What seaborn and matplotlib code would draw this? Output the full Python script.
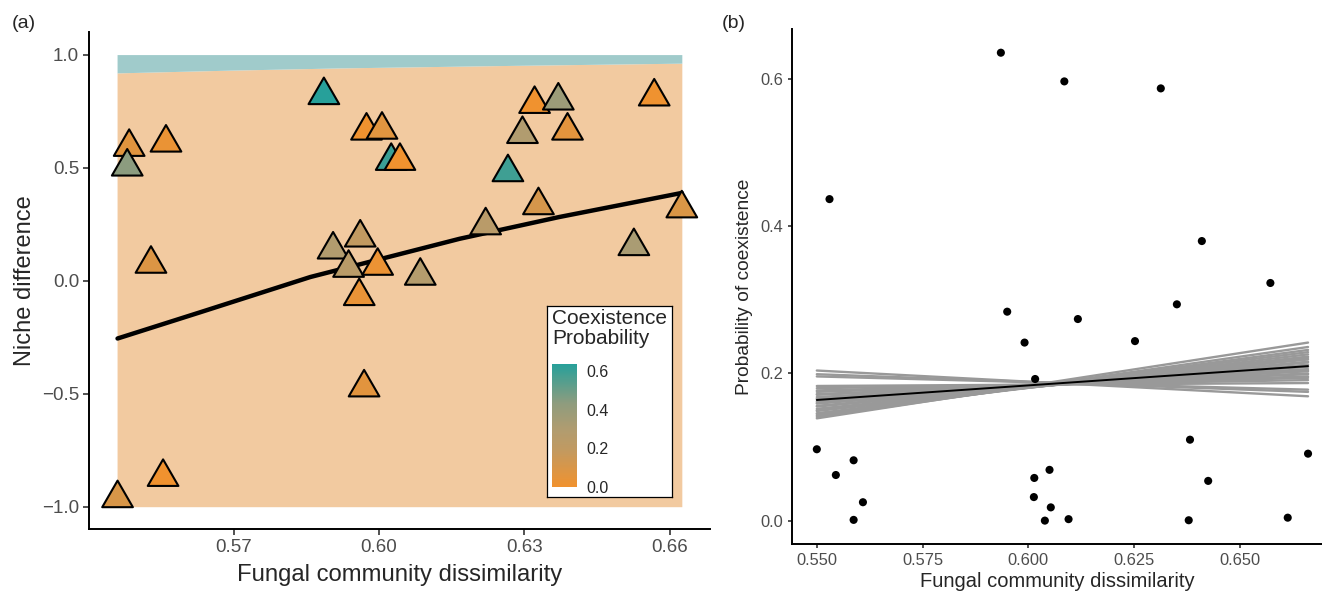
import numpy as np
import pandas as pd
import matplotlib
matplotlib.use("Agg")
import matplotlib.pyplot as plt
import seaborn as sns
from matplotlib.path import Path
from matplotlib.colors import LinearSegmentedColormap, Normalize
from matplotlib.cm import ScalarMappable

# ----------------------------------------------------------
# (a) niche difference vs fungal community dissimilarity
# ----------------------------------------------------------
dissim_a = [0.5460, 0.5484, 0.5480, 0.5529, 0.5554, 0.5560, 0.5886, 0.5905,
            0.5937, 0.5959, 0.5969, 0.5961, 0.5974, 0.5997, 0.6006, 0.6025,
            0.6043, 0.6085, 0.6220, 0.6266, 0.6296, 0.6321, 0.6329, 0.6370,
            0.6389, 0.6526, 0.6568, 0.6625]
niche_diff = [-0.963, 0.591, 0.504, 0.074, -0.869, 0.610, 0.820, 0.137,
              0.056, -0.069, -0.473, 0.190, 0.663, 0.065, 0.667, 0.529,
              0.529, 0.021, 0.244, 0.479, 0.648, 0.781, 0.333, 0.796,
              0.663, 0.152, 0.814, 0.319]
coex_prob_a = [0.097, 0.062, 0.437, 0.082, 0.001, 0.025, 0.636, 0.284,
               0.242, 0.032, 0.058, 0.1925, 0.000, 0.018, 0.069, 0.597,
               0.002, 0.274, 0.244, 0.5875, 0.294, 0.0005, 0.110, 0.380,
               0.054, 0.323, 0.004, 0.091]

# fitted curve
curve_x = [0.5460, 0.5632, 0.5858, 0.6166, 0.6371, 0.6625]
curve_y = [-0.256, -0.139, 0.016, 0.185, 0.281, 0.388]

# predicted-probability background (boundary between low / high)
band_x = [0.5459, 0.5690, 0.5919, 0.6270, 0.6625]
band_edge = [0.919, 0.931, 0.941, 0.952, 0.962]

# ----------------------------------------------------------
# (b) probability of coexistence vs dissimilarity
# ----------------------------------------------------------
dissim_b = [0.5500, 0.5530, 0.5545, 0.5587, 0.5587, 0.5609, 0.5935, 0.5950,
            0.5991, 0.6013, 0.6014, 0.6016, 0.6039, 0.6050, 0.6053, 0.6085,
            0.6095, 0.6117, 0.6252, 0.6313, 0.6351, 0.6379, 0.6382, 0.6410,
            0.6425, 0.6572, 0.6613, 0.6661]
coex_prob_b = [0.097, 0.437, 0.062, 0.082, 0.001, 0.025, 0.636, 0.284,
               0.242, 0.032, 0.058, 0.1925, 0.000, 0.069, 0.018, 0.597,
               0.002, 0.274, 0.244, 0.5875, 0.294, 0.0005, 0.110, 0.380,
               0.054, 0.323, 0.004, 0.091]

fit_x = [0.5500, 0.6661]
fit_y = [0.164, 0.210]

# posterior draws: value at left end / right end
draw_left = [0.204, 0.199, 0.196, 0.183, 0.180, 0.177, 0.175, 0.172, 0.171,
             0.168, 0.166, 0.165, 0.162, 0.160, 0.159, 0.156, 0.155, 0.152,
             0.150, 0.149, 0.146, 0.145, 0.143, 0.141, 0.139]
draw_right = [0.169, 0.175, 0.178, 0.187, 0.191, 0.194, 0.196, 0.199, 0.200,
              0.203, 0.204, 0.206, 0.209, 0.210, 0.212, 0.215, 0.216, 0.219,
              0.221, 0.223, 0.226, 0.229, 0.232, 0.236, 0.242]

# ----------------------------------------------------------
# style
# ----------------------------------------------------------
sns.set_style("ticks")
plt.rcParams['font.family'] = ['Liberation Sans', 'DejaVu Sans']
plt.rcParams['axes.unicode_minus'] = True

coex_cmap = LinearSegmentedColormap.from_list(
    "coex", [(0.0, "#F0922F"), (0.31, "#C09A62"), (0.47, "#B09C70"),
             (0.68, "#8E9C7E"), (1.0, "#27A09A")])
coex_norm = Normalize(vmin=0.0, vmax=0.636)

# ggplot triangle (centred on centroid)
tri = Path([(0, 1), (-0.866, -0.5), (0.866, -0.5), (0, 1)], closed=True)

fig = plt.figure(figsize=(13.22, 5.91), dpi=100)
ax1 = fig.add_axes([0.0673, 0.1044, 0.4697, 0.8415])
ax2 = fig.add_axes([0.5993, 0.0795, 0.4007, 0.8709])

TICK_GRAY = "#4D4D4D"

# ---------------- panel (a) ----------------
ax1.fill_between(band_x, -1, band_edge, color="#F2CAA0", lw=0, zorder=0)
ax1.fill_between(band_x, band_edge, 1, color="#A0CBCB", lw=0, zorder=0)
sns.lineplot(x=curve_x, y=curve_y, color="black", lw=3.2, ax=ax1, zorder=2)

df_a = pd.DataFrame({"dissim": dissim_a, "niche": niche_diff, "prob": coex_prob_a})
sns.scatterplot(data=df_a, x="dissim", y="niche", hue="prob", palette=coex_cmap,
                hue_norm=coex_norm, marker=tri, s=650, edgecolor="black",
                linewidth=1.5, legend=False, ax=ax1, zorder=3)

ax1.set_xlim(0.5401, 0.6683)
ax1.set_ylim(-1.1, 1.1)
ax1.set_xticks([0.57, 0.60, 0.63, 0.66])
ax1.set_xticklabels(["0.57", "0.60", "0.63", "0.66"])
ax1.set_yticks([-1.0, -0.5, 0.0, 0.5, 1.0])
ax1.set_yticklabels(["\u22121.0", "\u22120.5", "0.0", "0.5", "1.0"])
ax1.tick_params(labelsize=13.5, labelcolor=TICK_GRAY, length=4, width=1.2,
                color="#333333", pad=3)
ax1.set_xlabel("Fungal community dissimilarity", fontsize=17.2, labelpad=6)
ax1.set_ylabel("Niche difference", fontsize=17, labelpad=4)

# ---------------- panel (b) ----------------
df_draws = pd.DataFrame({
    "x": np.repeat([fit_x], len(draw_left), axis=0).ravel(),
    "y": np.column_stack([draw_left, draw_right]).ravel(),
    "draw": np.repeat(np.arange(len(draw_left)), 2),
})
sns.lineplot(data=df_draws, x="x", y="y", units="draw", estimator=None,
             color="#999999", lw=1.7, ax=ax2, zorder=1)
sns.lineplot(x=fit_x, y=fit_y, color="black", lw=1.4, ax=ax2, zorder=2)
sns.scatterplot(x=dissim_b, y=coex_prob_b, color="black", s=34,
                edgecolor="none", ax=ax2, zorder=3)

ax2.set_xlim(0.5442, 0.6694)
ax2.set_ylim(-0.0318, 0.6678)
ax2.set_xticks([0.550, 0.575, 0.600, 0.625, 0.650])
ax2.set_xticklabels(["0.550", "0.575", "0.600", "0.625", "0.650"])
ax2.set_yticks([0.0, 0.2, 0.4, 0.6])
ax2.set_yticklabels(["0.0", "0.2", "0.4", "0.6"])
ax2.tick_params(labelsize=11.8, labelcolor=TICK_GRAY, length=3, width=1.2,
                color="#333333", pad=3.5)
ax2.set_xlabel("Fungal community dissimilarity", fontsize=14.5, labelpad=3)
ax2.set_ylabel("Probability of coexistence", fontsize=13.8, labelpad=5)

for ax in (ax1, ax2):
    sns.despine(ax=ax)
    for side in ("left", "bottom"):
        ax.spines[side].set_linewidth(1.4)
        ax.spines[side].set_color("black")

# ---------------- legend (a) ----------------
leg = fig.add_axes([0.414, 0.1596, 0.0941, 0.3227])
leg.set_xticks([]); leg.set_yticks([])
leg.set_facecolor("white")
for s in leg.spines.values():
    s.set_linewidth(0.9); s.set_color("black")
fig.text(0.4178, 0.4775, "Coexistence\nProbability", fontsize=15,
         va="top", ha="left", linespacing=1.1)

cax = fig.add_axes([0.4178, 0.1765, 0.01868, 0.2076])
cb = fig.colorbar(ScalarMappable(norm=coex_norm, cmap=coex_cmap), cax=cax)
cb.outline.set_visible(False)
cb.set_ticks([0.0, 0.2, 0.4, 0.6])
cb.set_ticklabels(["0.0", "0.2", "0.4", "0.6"])
cax.tick_params(axis="y", left=True, right=True, direction="in",
                color="white", length=4, width=0.8, labelsize=11.5, pad=7)

# panel tags
fig.text(12 / 1322, 1 - 24 / 591, "(a)", fontsize=14, va="center", ha="left")
fig.text(722 / 1322, 1 - 23 / 591, "(b)", fontsize=14, va="center", ha="left")

fig.savefig("out.png", dpi=100)
print("saved out.png")
